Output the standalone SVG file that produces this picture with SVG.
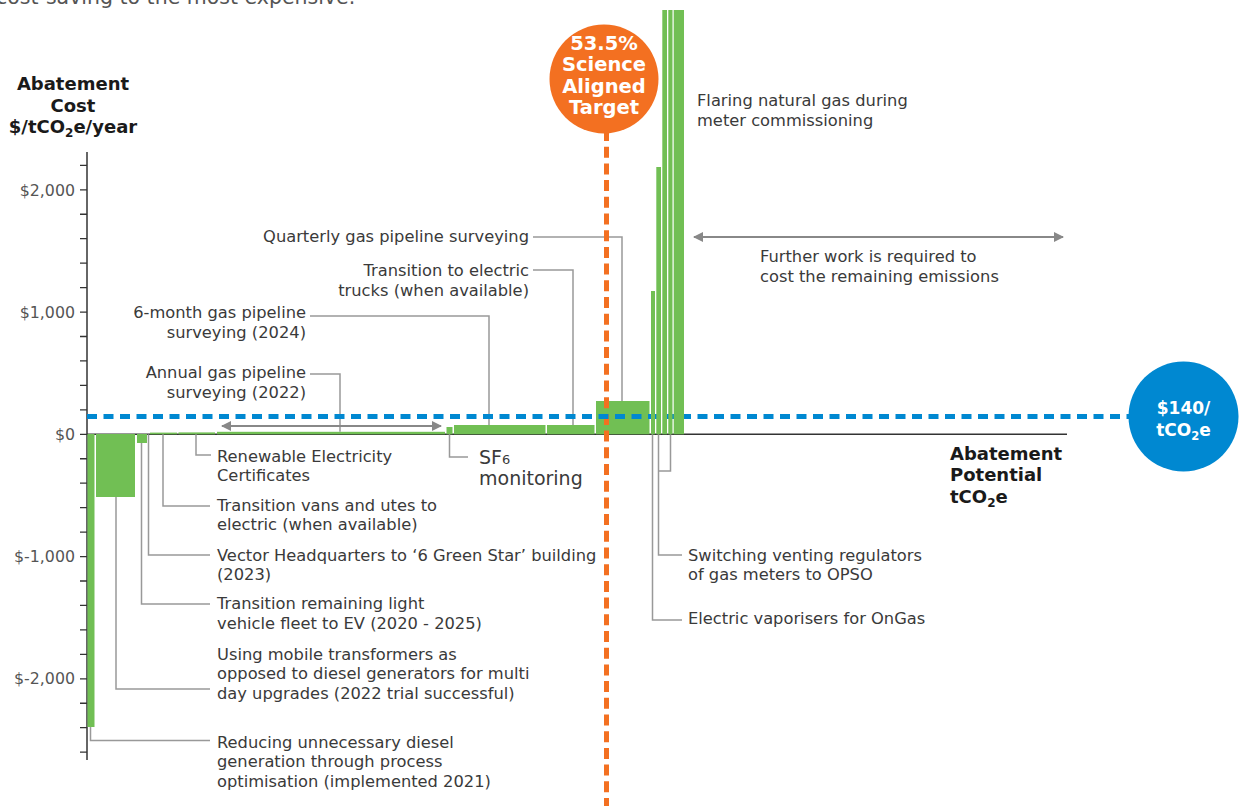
<svg xmlns="http://www.w3.org/2000/svg" width="1244" height="806" viewBox="0 0 1244 806">
<defs>
<style>
.lbl{font-family:"DejaVu Sans","Liberation Sans",sans-serif;font-size:16.3px;fill:#3a3a3a}
.big{font-family:"DejaVu Sans","Liberation Sans",sans-serif;font-size:19px;fill:#3a3a3a}
.ax{font-family:"DejaVu Sans","Liberation Sans",sans-serif;font-size:15.8px;fill:#555}
.ttl{font-family:"DejaVu Sans","Liberation Sans",sans-serif;font-size:18px;font-weight:bold;fill:#1a1a1a}
.wt{font-family:"DejaVu Sans","Liberation Sans",sans-serif;font-weight:bold;fill:#fff;text-anchor:middle}
.bar{fill:#71bf54}
.ld{fill:none;stroke:#999;stroke-width:1.5}
.arr{fill:none;stroke:#888;stroke-width:2}
</style>
<marker id="ah" viewBox="0 0 10 10" refX="9" refY="5" markerWidth="10" markerHeight="10" markerUnits="userSpaceOnUse" orient="auto-start-reverse">
<path d="M0 0L10 5L0 10Z" fill="#888"/>
</marker>
</defs>
<rect width="1244" height="806" fill="#fff"/>

<text x="-4" y="4" style="font-family:'DejaVu Sans',sans-serif;font-size:20.5px;fill:#555">cost-saving to the most expensive.</text>

<g id="y-axis-title">
<text class="ttl" text-anchor="middle" x="73" y="90">Abatement</text>
<text class="ttl" text-anchor="middle" x="73" y="112">Cost</text>
<text class="ttl" text-anchor="middle" x="73" y="133">$/tCO<tspan font-size="12" dy="4">2</tspan><tspan dy="-4">e/year</tspan></text>
</g>

<g id="axes">
<line x1="87" y1="152" x2="87" y2="760" stroke="#333" stroke-width="1.5"/>
<line x1="87" y1="434.3" x2="1067" y2="434.3" stroke="#333" stroke-width="1.5"/>
<path d="M80 165.35h7M80 189.8h7M80 214.25h7M80 238.7h7M80 263.15h7M80 287.6h7M80 312.05h7M80 336.5h7M80 360.95h7M80 385.4h7M80 409.85h7M80 434.3h7M80 458.75h7M80 483.2h7M80 507.65h7M80 532.1h7M80 556.55h7M80 581h7M80 605.45h7M80 629.9h7M80 654.35h7M80 678.8h7M80 703.25h7M80 727.7h7M80 752.15h7" stroke="#333" stroke-width="1.3"/>
<text class="ax" text-anchor="end" x="75" y="195.5">$2,000</text>
<text class="ax" text-anchor="end" x="75" y="317.5">$1,000</text>
<text class="ax" text-anchor="end" x="75" y="440">$0</text>
<text class="ax" text-anchor="end" x="75" y="562">$-1,000</text>
<text class="ax" text-anchor="end" x="75" y="684">$-2,000</text>
</g>

<g id="x-axis-title">
<text class="ttl" x="950" y="460">Abatement</text>
<text class="ttl" x="950" y="481">Potential</text>
<text class="ttl" x="950" y="503">tCO<tspan font-size="12" dy="4">2</tspan><tspan dy="-4">e</tspan></text>
</g>

<g id="bars">
<rect id="bar-diesel" class="bar" x="87.5" y="434" width="7" height="293"/>
<rect id="bar-transformers" class="bar" x="96" y="434" width="39" height="63"/>
<rect id="bar-light-fleet" class="bar" x="137" y="434" width="10" height="9"/>
<rect id="bar-vans" class="bar" x="150" y="432.6" width="27" height="1.7"/>
<rect id="bar-rec" class="bar" x="178.5" y="432.4" width="36.5" height="1.9"/>
<rect id="bar-annual" class="bar" x="217" y="431.8" width="228" height="2.5"/>
<rect id="bar-sf6" class="bar" x="446.5" y="427" width="6" height="7.3"/>
<rect id="bar-6month" class="bar" x="454" y="425" width="91.5" height="9.3"/>
<rect id="bar-trucks" class="bar" x="547" y="425" width="47.5" height="9.3"/>
<rect id="bar-quarterly" class="bar" x="596" y="401" width="53.5" height="33.3"/>
</g>

<g id="connectors">
<path class="ld" d="M90.5 727V740.5H210"/>
<path class="ld" d="M116 497V689H210"/>
<path class="ld" d="M141.5 443V604H210"/>
<path class="ld" d="M148.5 434.3V555H210"/>
<path class="ld" d="M163 434.3V506H210"/>
<path class="ld" d="M196 434.3V455H211"/>
<path class="ld" d="M340 431.8V374H310"/>
<path class="ld" d="M489 425V316H310"/>
<path class="ld" d="M449.5 434.3V457H468"/>
<path class="ld" d="M573 425V270H533"/>
<path class="ld" d="M622 401V237H533"/>
<path class="ld" d="M670.5 434.3V471H658.5"/>
<path class="ld" d="M658.5 434.3V555H682"/>
<path class="ld" d="M652.5 434.3V620H682"/>
<line class="arr" x1="222" y1="426" x2="441" y2="426" marker-start="url(#ah)" marker-end="url(#ah)"/>
<line class="arr" x1="694" y1="237" x2="1063" y2="237" marker-start="url(#ah)" marker-end="url(#ah)"/>
</g>

<g id="target-line">
<line x1="606.5" y1="130" x2="606.5" y2="806" stroke="#f37021" stroke-width="5" stroke-dasharray="11 5.7"/>
</g>
<g id="price-line">
<line x1="87" y1="416.5" x2="1135" y2="416.5" stroke="#0088d1" stroke-width="5" stroke-dasharray="10 6.5"/>
</g>

<g id="tall-bars">
<rect id="bar-vaporisers" class="bar" x="651" y="291" width="4" height="143.3"/>
<rect id="bar-regulators-a" class="bar" x="656.3" y="167" width="4.7" height="267.3"/>
<rect id="bar-flaring-a" class="bar" x="662.3" y="10" width="4.7" height="424.3"/>
<rect id="bar-regulators-b" class="bar" x="668.3" y="10" width="4.2" height="424.3"/>
<rect id="bar-flaring-b" class="bar" x="673.7" y="10" width="10.3" height="424.3"/>
</g>

<g id="target-badge">
<circle cx="604" cy="79" r="54.5" fill="#f37021"/>
<text class="wt" x="604" y="49.5" font-size="19.5">53.5%</text>
<text class="wt" x="604" y="71" font-size="19.5">Science</text>
<text class="wt" x="604" y="92.5" font-size="19.5">Aligned</text>
<text class="wt" x="604" y="114" font-size="19.5">Target</text>
</g>

<g id="price-badge">
<circle cx="1183.5" cy="416.5" r="55" fill="#0088d1"/>
<text class="wt" x="1183.5" y="414" font-size="17">$140/</text>
<text class="wt" x="1183.5" y="436" font-size="17">tCO<tspan font-size="11.5" dy="3.5">2</tspan><tspan dy="-3.5">e</tspan></text>
</g>

<g id="label-quarterly"><text class="lbl" text-anchor="end" x="529" y="241.5">Quarterly gas pipeline surveying</text></g>
<g id="label-trucks">
<text class="lbl" text-anchor="end" x="529" y="275.5">Transition to electric</text>
<text class="lbl" text-anchor="end" x="529" y="295.5">trucks (when available)</text>
</g>
<g id="label-6month">
<text class="lbl" text-anchor="end" x="306" y="317.5">6-month gas pipeline</text>
<text class="lbl" text-anchor="end" x="306" y="338">surveying (2024)</text>
</g>
<g id="label-annual">
<text class="lbl" text-anchor="end" x="306" y="377.5">Annual gas pipeline</text>
<text class="lbl" text-anchor="end" x="306" y="397.5">surveying (2022)</text>
</g>
<g id="label-rec">
<text class="lbl" x="217" y="461.5">Renewable Electricity</text>
<text class="lbl" x="217" y="481">Certificates</text>
</g>
<g id="label-sf6">
<text class="big" x="479" y="464">SF<tspan font-size="13">6</tspan></text>
<text class="big" x="479" y="485">monitoring</text>
</g>
<g id="label-vans">
<text class="lbl" x="217" y="511">Transition vans and utes to</text>
<text class="lbl" x="217" y="530">electric (when available)</text>
</g>
<g id="label-vector">
<text class="lbl" x="217" y="560.5">Vector Headquarters to ‘6 Green Star’ building</text>
<text class="lbl" x="217" y="580">(2023)</text>
</g>
<g id="label-light-fleet">
<text class="lbl" x="217" y="609">Transition remaining light</text>
<text class="lbl" x="217" y="628.5">vehicle fleet to EV (2020 - 2025)</text>
</g>
<g id="label-transformers">
<text class="lbl" x="217" y="659.5">Using mobile transformers as</text>
<text class="lbl" x="217" y="679">opposed to diesel generators for multi</text>
<text class="lbl" x="217" y="698.5">day upgrades (2022 trial successful)</text>
</g>
<g id="label-diesel">
<text class="lbl" x="217" y="747.5">Reducing unnecessary diesel</text>
<text class="lbl" x="217" y="767">generation through process</text>
<text class="lbl" x="217" y="786.5">optimisation (implemented 2021)</text>
</g>
<g id="label-flaring">
<text class="lbl" x="697" y="105.5">Flaring natural gas during</text>
<text class="lbl" x="697" y="125.5">meter commissioning</text>
</g>
<g id="label-further">
<text class="lbl" x="760" y="261.5">Further work is required to</text>
<text class="lbl" x="760" y="281.5">cost the remaining emissions</text>
</g>
<g id="label-regulators">
<text class="lbl" x="688" y="560.5">Switching venting regulators</text>
<text class="lbl" x="688" y="580">of gas meters to OPSO</text>
</g>
<g id="label-vaporisers"><text class="lbl" x="688" y="623.5">Electric vaporisers for OnGas</text></g>
</svg>
